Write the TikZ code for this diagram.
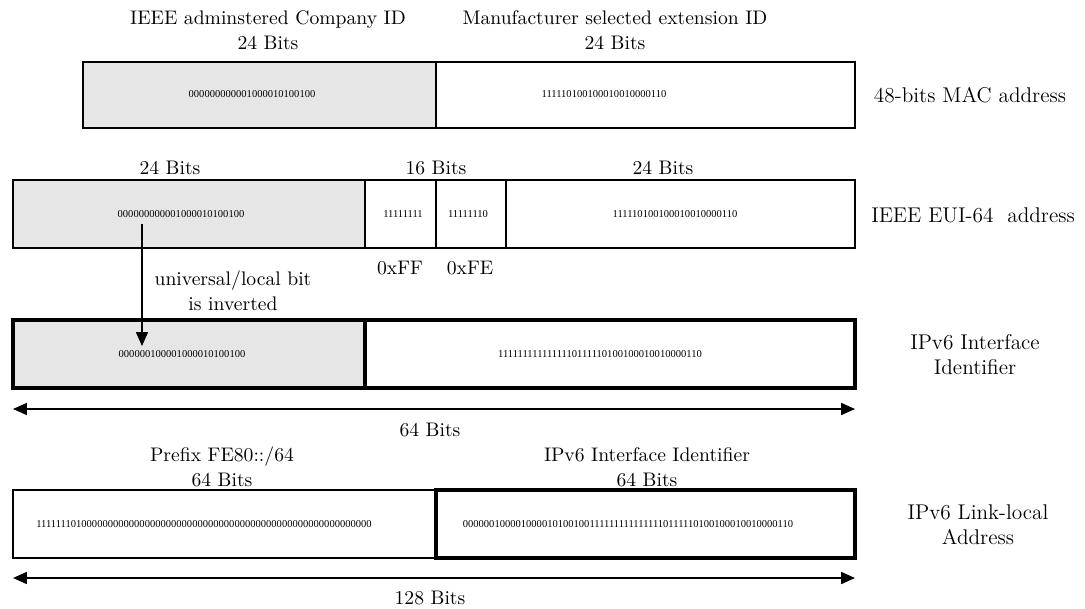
\documentclass[tikz,border=0pt]{standalone}
\usepackage{fontspec}
\newfontfamily\binfont{Liberation Serif}
\usetikzlibrary{arrows.meta,fit}
\definecolor{cellgray}{RGB}{230,230,230}
\begin{document}
\begin{tikzpicture}[x=0.54pt,y=-0.54pt,
  cell/.style={draw, line width=0.6pt, inner sep=0pt},
  shaded/.style={fill=cellgray},
  bold/.style={draw, line width=1.7pt, inner sep=0pt},
  bits/.style={font=\binfont\fontsize{5.7}{7}\selectfont, inner sep=0pt},
  lbl/.style={font=\fontsize{10.6}{13.5}\selectfont, inner sep=0pt, align=center},
  rowname/.style={font=\fontsize{11.5}{13.5}\selectfont, inner sep=0pt, align=center},
  span/.style={{Triangle[length=7.5pt,width=6.5pt]}-{Triangle[length=7.5pt,width=6.5pt]}, line width=0.8pt},
  flip/.style={-{Triangle[length=7.5pt,width=6.5pt]}, line width=0.6pt}]
\useasboundingbox (0,0) rectangle (1085,608);

% 48-bit MAC address
\node[cell, shaded, fit={(83,62) (436,128)}] (macL) {};
\node[cell, fit={(436,62) (855,128)}] (macR) {};
\node[bits] (macLb) at (252,94) {000000000001000010100100};
\node[bits] (macRb) at (604,94) {111110100100010010000110};
\node[lbl] (macLt) at (268,30) {IEEE adminstered Company ID\\24 Bits};
\node[lbl] (macRt) at (615,30) {Manufacturer selected extension ID\\24 Bits};
\node[rowname] (macName) at (970,95) {48-bits MAC address};

% EUI-64 address
\node[cell, shaded, fit={(13,180) (365,248)}] (euiL) {};
\node[cell, fit={(365,180) (436,248)}] (euiF) {};
\node[cell, fit={(436,180) (506,248)}] (euiE) {};
\node[cell, fit={(506,180) (855,248)}] (euiR) {};
\node[bits] (euiLb) at (181,214) {000000000001000010100100};
\node[bits] (euiFb) at (403,214) {11111111};
\node[bits] (euiEb) at (468,214) {11111110};
\node[bits] (euiRb) at (675,214) {111110100100010010000110};
\node[lbl] (euiLt) at (170,168) {24 Bits};
\node[lbl] (euiMt) at (436,168) {16 Bits};
\node[lbl] (euiRt) at (663,168) {24 Bits};
\node[lbl] (ff) at (400,268) {0xFF};
\node[lbl] (fe) at (470,268) {0xFE};
\node[rowname] (euiName) at (973,215) {IEEE EUI-64\ \ address};

% IPv6 interface identifier
\node[bold, shaded, fit={(13,320) (365,388)}] (iidL) {};
\node[bold, fit={(365,320) (855,388)}] (iidR) {};
\node[bits] (iidLb) at (182,354) {000000100001000010100100};
\node[bits] (iidRb) at (600,354) {1111111111111110111110100100010010000110};
\node[rowname] (iidName) at (975,355) {IPv6 Interface\\Identifier};

% universal/local bit flip
\coordinate (ulFrom) at (142,224);
\coordinate (ulTo) at (142,346);
\draw[flip] (ulFrom) -- (ulTo);
\node[lbl] (ulText) at (233,291) {universal/local bit\\is inverted};

% 64-bit span
\coordinate (s64L) at (13,409);
\coordinate (s64R) at (855,409);
\draw[span] (s64L) -- (s64R);
\node[lbl] (s64) at (430,430) {64 Bits};

% IPv6 link-local address
\node[cell, fit={(13,490) (436,558)}] (llL) {};
\node[bold, fit={(436,490) (855,558)}] (llR) {};
\node[bits] (llLb) at (204,524) {1111111010000000000000000000000000000000000000000000000000000000};
\node[bits] (llRb) at (628,524) {0000001000010000101001001111111111111110111110100100010010000110};
\node[lbl] (llLt) at (222,467) {Prefix FE80::/64\\64 Bits};
\node[lbl] (llRt) at (647,467) {IPv6 Interface Identifier\\64 Bits};
\node[rowname] (llName) at (978,525) {IPv6 Link-local\\Address};

% 128-bit span
\coordinate (s128L) at (13,578);
\coordinate (s128R) at (855,578);
\draw[span] (s128L) -- (s128R);
\node[lbl] (s128) at (430,598) {128 Bits};
\end{tikzpicture}
\end{document}
